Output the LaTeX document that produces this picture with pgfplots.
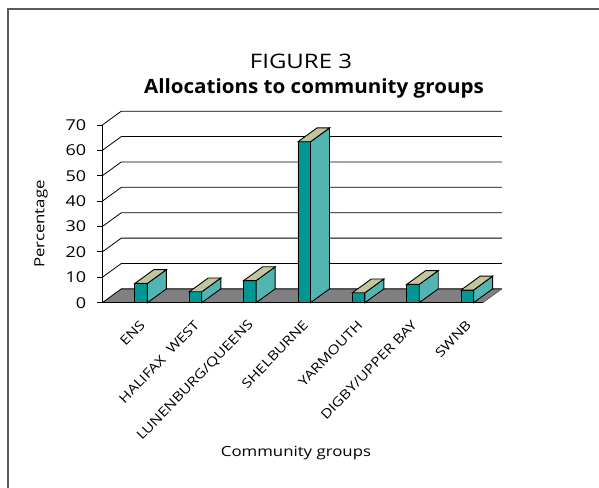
\documentclass[border=0pt]{standalone}
\usepackage{pgfplots}
\pgfplotsset{compat=1.18}
\usepackage{pgfplotstable}
\usepackage{fontspec}
\setmainfont[FakeStretch=1.2]{Open Sans}
\newfontfamily\titlebold[FakeStretch=1.05]{Open Sans Bold}
\definecolor{frontc}{RGB}{0,150,145}
\definecolor{sidec}{RGB}{82,181,178}
\definecolor{topc}{RGB}{194,198,158}
\definecolor{floorc}{RGB}{128,128,130}
\definecolor{framec}{RGB}{90,90,90}

\pgfplotstableread{
x v
0 7.6
1 4.3
2 8.7
3 63.4
4 3.9
5 7.2
6 5.0
}\data

\def\cx{0.715}
\def\hw{0.115}
\def\dx{0.35}
\def\dy{5.44}

\begin{document}
\begin{tikzpicture}[x=1bp,y=1bp]
\useasboundingbox (0,0) rectangle (599,488);
\draw[framec, line width=2bp] (7.5,-5) -- (7.5,478.5) -- (610,478.5);
\node[anchor=base, font=\fontsize{20bp}{22bp}\selectfont, inner sep=0pt] at (301,419.7) {FIGURE 3};
\node[anchor=base, font=\fontsize{19.6bp}{22bp}\titlebold, inner sep=0pt] at (314,394.7) {Allocations to community groups};
\node[rotate=90, font=\fontsize{14bp}{16bp}\selectfont, inner sep=0pt] at (41,264) {Percentage};
\node[font=\fontsize{14bp}{16bp}\selectfont, inner sep=0pt] at (296,35) {Community groups};
\begin{axis}[
  at={(102.3bp,185.3bp)}, anchor=south west,
  scale only axis, width=380.5bp, height=177.7bp,
  xmin=0, xmax=7, ymin=0, ymax=70, clip=false,
  axis lines*=left, axis line style={-, black, line width=0.9bp},
  ytick={0,10,...,70}, tick align=outside, major tick length=5.5bp,
  ytick style={black, line width=0.9bp},
  xtick={0.715,1.715,2.715,3.715,4.715,5.715,6.715},
  xticklabels={ENS,{HALIFAX\ \ WEST},{LUNENBURG/QUEENS},SHELBURNE,YARMOUTH,{DIGBY/UPPER BAY},SWNB},
  xtick style={draw=none},
  /pgf/number format/assume math mode=true,
  yticklabel style={font=\fontsize{15bp}{17bp}\selectfont, xshift=-7bp},
  xticklabel style={font=\fontsize{13bp}{15bp}\selectfont, rotate=46, anchor=east, yshift=-11bp, xshift=-6bp},
]
% back wall gridlines and side-wall diagonals
\pgfplotsinvokeforeach{10,20,30,40,50,60,70}{%
  \pgfmathsetmacro\Yb{#1+\dy}%
  \edef\temp{\noexpand\draw[black, line width=0.8bp] (axis cs:0,#1) -- (axis cs:\dx,\Yb) -- (axis cs:7.35,\Yb);}%
  \temp
}
% floor
\addplot[fill=floorc, draw=none] coordinates {(0,0) (7,0) (7.35,5.44) (0.35,5.44)} -- cycle;
\draw[black, line width=0.8bp] (axis cs:0,0) -- (axis cs:0.35,5.44) -- (axis cs:7.35,5.44);
\draw[black!60, line width=0.8bp] (axis cs:7.35,5.44) -- (axis cs:7,0);
\draw[black, line width=0.9bp] (axis cs:0,0) -- (axis cs:7,0);
% bar front faces
\addplot[ybar, bar width=0.23, bar shift=0pt, fill=frontc, draw=black, line width=0.9bp]
  table[x expr=\thisrow{x}+\cx, y=v] {\data};
% bar side and top faces
\pgfplotsinvokeforeach{0,...,6}{%
  \pgfplotstablegetelem{#1}{v}\of\data
  \pgfmathsetmacro\V{\pgfplotsretval}%
  \pgfmathsetmacro\XL{#1+\cx-\hw}%
  \pgfmathsetmacro\XR{#1+\cx+\hw}%
  \pgfmathsetmacro\XLd{\XL+\dx}%
  \pgfmathsetmacro\XRd{\XR+\dx}%
  \pgfmathsetmacro\Vd{\V+\dy}%
  \edef\temp{%
    \noexpand\addplot[fill=sidec, draw=black, line width=0.9bp] coordinates {(\XR,0) (\XR,\V) (\XRd,\Vd) (\XRd,\dy)} -- cycle;
    \noexpand\addplot[fill=topc, draw=black, line width=0.9bp] coordinates {(\XL,\V) (\XR,\V) (\XRd,\Vd) (\XLd,\Vd)} -- cycle;
  }%
  \temp
}
\end{axis}
\end{tikzpicture}
\end{document}
